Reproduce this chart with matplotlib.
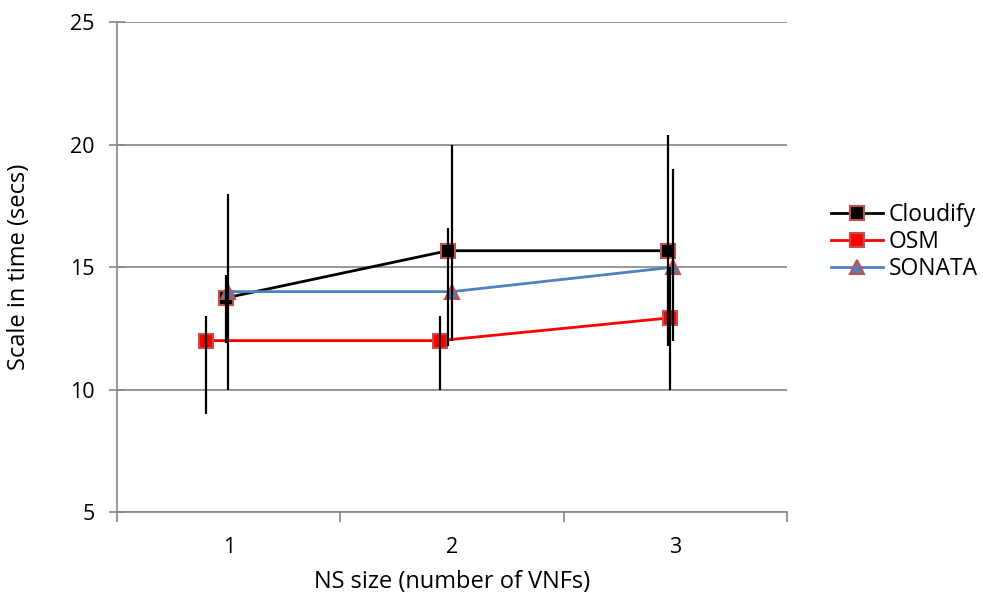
import matplotlib
matplotlib.use("Agg")
from matplotlib import pyplot as plt
import numpy as np

plt.rcParams['font.family'] = ['Open Sans', 'DejaVu Sans']

# x positions (slightly shifted per series, as in the original chart)
cloudify_x = [0.99, 1.98, 2.965]
osm_x = [0.90, 1.945, 2.975]
sonata_x = [0.995, 2.0, 2.99]

# mean values
cloudify_y = [13.75, 15.67, 15.67]
osm_y = [12.0, 12.0, 12.93]
sonata_y = [14.0, 14.0, 15.0]

# error bar ends
cloudify_lo = [11.9, 11.8, 11.8]
cloudify_hi = [14.67, 16.6, 20.4]
osm_lo = [9.0, 10.0, 10.0]
osm_hi = [13.0, 13.0, 15.0]
sonata_lo = [10.0, 12.0, 12.0]
sonata_hi = [18.0, 20.0, 19.0]

categories = ['1', '2', '3']

fig = plt.figure(figsize=(9.83, 6.01), dpi=100)
ax = fig.add_axes([0.119, 0.148, 0.682, 0.815])

edge = '#C0504D'
series = [
    ('Cloudify', cloudify_x, cloudify_y, cloudify_lo, cloudify_hi, 'black', 's', 'black'),
    ('OSM', osm_x, osm_y, osm_lo, osm_hi, '#FF0000', 's', '#FF0000'),
    ('SONATA', sonata_x, sonata_y, sonata_lo, sonata_hi, '#4F81BD', '^', '#4F81BD'),
]

for name, x, y, lo, hi, col, mk, fc in series:
    y = np.array(y)
    yerr = [y - np.array(lo), np.array(hi) - y]
    ax.plot(x, y, color=col, lw=2.0, marker=mk, markersize=10,
            markerfacecolor=fc, markeredgecolor=edge, markeredgewidth=1.5,
            label=name, zorder=3)
    ax.errorbar(x, y, yerr=yerr, fmt='none', ecolor='black', elinewidth=1.6,
                capsize=0, zorder=4)

ax.set_xlim(0.5, 3.5)
ax.set_ylim(5, 25)
ax.set_yticks([5, 10, 15, 20, 25])
ax.set_xticks([0.5, 1.5, 2.5, 3.5])
ax.set_xticklabels([])
ax.set_xticks([1, 2, 3], minor=True)
ax.set_xticklabels(categories, minor=True)
ax.tick_params(axis='x', which='major', direction='out', length=7, width=1.2, color='#868686')
ax.tick_params(axis='x', which='minor', length=0, pad=18, labelsize=15.5)
ax.tick_params(axis='y', direction='inout', length=12, width=1.2, color='#868686',
               labelsize=15.5, pad=10)

ax.grid(axis='y', color='#868686', lw=1.2)
ax.set_axisbelow(True)
for s in ['top', 'right']:
    ax.spines[s].set_visible(False)
for s in ['left', 'bottom']:
    ax.spines[s].set_color('#868686')
    ax.spines[s].set_linewidth(1.2)

ax.set_xlabel('NS size (number of VNFs)', fontsize=17)
ax.set_ylabel('Scale in time (secs)', fontsize=17)
ax.xaxis.set_label_coords(0.5, -0.118)
ax.yaxis.set_label_coords(-0.128, 0.5)

ax.legend(loc='center left', bbox_to_anchor=(1.051, 0.551), frameon=False,
          borderaxespad=0, fontsize=16.5, handlelength=2.27, labelspacing=0.12,
          handletextpad=0.26)

fig.savefig('out.png', dpi=100)
